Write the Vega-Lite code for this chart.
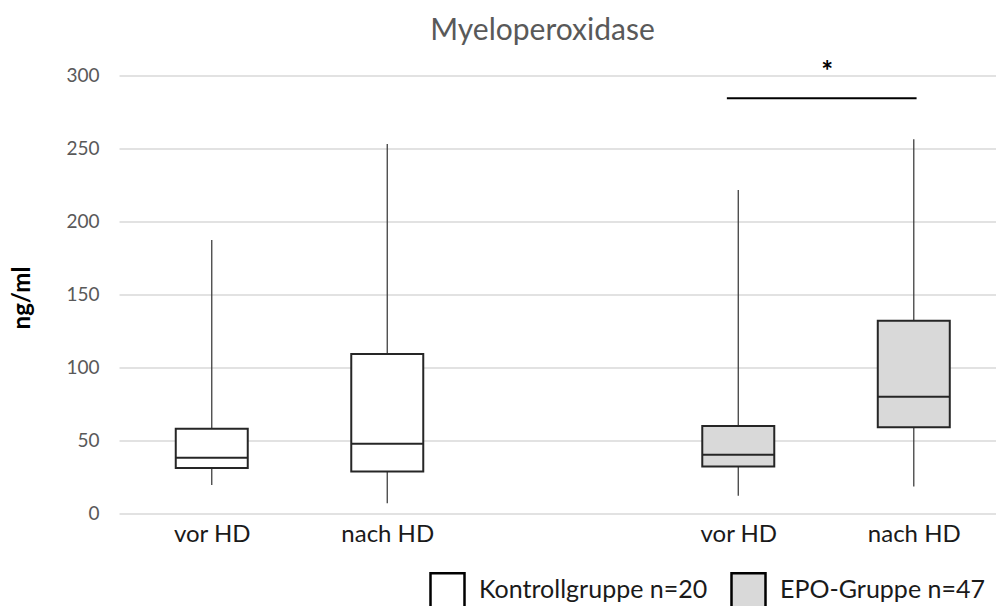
{
  "$schema": "https://vega.github.io/schema/vega-lite/v6.json",
  "width": 877,
  "height": 438,
  "autosize": {"type": "none"},
  "padding": {"left": 119, "top": 75.5, "right": 0, "bottom": 92.5},
  "background": "white",
  "config": {"font": "Lato", "view": {"stroke": null}},
  "title": {"text": "Myeloperoxidase", "fontSize": 30, "font": "Lato", "fontWeight": "normal", "color": "#595959", "anchor": "middle", "dx": -15, "offset": 13},
  "datasets": {
    "boxes": [
      {"slot": 1, "grp": "Kontrollgruppe n=20", "min": 19.6, "q1": 31.1, "median": 38.1, "q3": 58.0, "max": 187.4},
      {"slot": 2, "grp": "Kontrollgruppe n=20", "min": 7.1, "q1": 28.8, "median": 47.7, "q3": 109.3, "max": 253.0},
      {"slot": 4, "grp": "EPO-Gruppe n=47", "min": 12.1, "q1": 32.2, "median": 40.2, "q3": 60.0, "max": 221.6},
      {"slot": 5, "grp": "EPO-Gruppe n=47", "min": 18.5, "q1": 59.1, "median": 79.9, "q3": 132.1, "max": 256.3}
    ],
    "sig": [
      {"x1": 3.935, "x2": 5.016, "y": 284.4, "ystar": 296, "xstar": 4.507, "label": "*"}
    ]
  },
  "layer": [
    {
      "data": {"name": "boxes"},
      "mark": {"type": "rule", "color": "#404040", "strokeWidth": 1.3},
      "encoding": {
        "x": {"field": "slot", "type": "quantitative", "scale": {"domain": [0.5, 5.44], "nice": false, "zero": false},
          "axis": {"values": [1, 2, 4, 5], "labelExpr": "datum.value == 1 || datum.value == 4 ? 'vor HD' : 'nach HD'", "title": null, "grid": false, "ticks": false, "tickSize": 0, "domain": false, "labelFontSize": 24, "labelFont": "Lato", "labelColor": "#1a1a1a", "labelPadding": 28, "labelBaseline": "alphabetic", "labelFlush": false}},
        "y": {"field": "min", "type": "quantitative", "scale": {"domain": [0, 300], "nice": false},
          "axis": {"values": [0, 50, 100, 150, 200, 250, 300], "grid": true, "gridColor": "#d9d9d9", "gridWidth": 1.3, "domain": false, "ticks": false, "tickSize": 0, "labelFontSize": 19, "labelFont": "Lato", "labelColor": "#595959", "labelPadding": 20, "title": "ng/ml", "titleFont": "Lato", "titleFontSize": 24, "titleFontWeight": "bold", "titleColor": "#000000", "titleX": -97, "titleY": 222, "titleAngle": -90, "titleAlign": "center", "titleBaseline": "middle"}},
        "y2": {"field": "q1"}
      }
    },
    {
      "data": {"name": "boxes"},
      "mark": {"type": "rule", "color": "#404040", "strokeWidth": 1.3},
      "encoding": {
        "x": {"field": "slot", "type": "quantitative"},
        "y": {"field": "q3", "type": "quantitative"},
        "y2": {"field": "max"}
      }
    },
    {
      "data": {"name": "boxes"},
      "mark": {"type": "bar", "orient": "vertical", "width": 72, "stroke": "#262626", "strokeWidth": 2, "opacity": 1},
      "encoding": {
        "x": {"field": "slot", "type": "quantitative"},
        "y": {"field": "q1", "type": "quantitative"},
        "y2": {"field": "q3"},
        "fill": {"field": "grp", "type": "nominal",
          "scale": {"domain": ["Kontrollgruppe n=20", "EPO-Gruppe n=47"], "range": ["#ffffff", "#d9d9d9"]},
          "legend": {"orient": "none", "legendX": 310, "legendY": 496, "direction": "horizontal", "title": null, "symbolType": "square", "symbolSize": 1156, "symbolStrokeColor": "#000000", "symbolStrokeWidth": 2.5, "symbolOpacity": 1, "labelFontSize": 25, "labelFont": "Lato", "labelColor": "#1a1a1a", "labelOffset": 13, "columnPadding": 18, "padding": 0, "labelLimit": 400}}
      }
    },
    {
      "data": {"name": "boxes"},
      "mark": {"type": "tick", "orient": "horizontal", "size": 72, "thickness": 2, "color": "#262626", "opacity": 1},
      "encoding": {
        "x": {"field": "slot", "type": "quantitative"},
        "y": {"field": "median", "type": "quantitative"}
      }
    },
    {
      "data": {"name": "sig"},
      "mark": {"type": "rule", "color": "#000000", "strokeWidth": 2},
      "encoding": {
        "x": {"field": "x1", "type": "quantitative"},
        "x2": {"field": "x2"},
        "y": {"field": "y", "type": "quantitative"}
      }
    },
    {
      "data": {"name": "sig"},
      "mark": {"type": "text", "fontSize": 28, "fontWeight": "bold", "color": "#000000", "baseline": "alphabetic", "align": "center", "clip": false},
      "encoding": {
        "x": {"field": "xstar", "type": "quantitative"},
        "y": {"field": "ystar", "type": "quantitative"},
        "text": {"field": "label"}
      }
    }
  ]
}
